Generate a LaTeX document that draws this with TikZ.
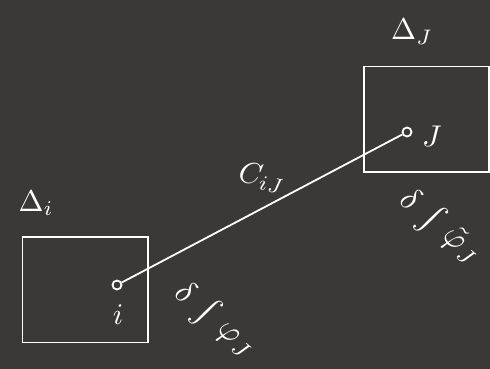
\documentclass[tikz,border=0pt]{standalone}
\usepackage{amsmath}
\usepackage{graphicx}
\definecolor{bg}{HTML}{3B3838}
\newcommand{\bigt}[1]{\scalebox{3}{$#1$}}
\newcommand{\bigd}[1]{\scalebox{3.3}{$#1$}}
\begin{document}
\begin{tikzpicture}[x=1pt,y=-1pt,
  box/.style={draw=white,line width=1.8pt},
  pt/.style={circle,draw=white,line width=1.8pt,inner sep=0pt,minimum size=9pt},
  lbl/.style={text=white,inner sep=1pt},
  conn/.style={draw=white,line width=1.8pt}]
\fill[bg] (0,0) rectangle (490,369);
\useasboundingbox (0,0) rectangle (490,369);
\draw[box] (22.5,237) rectangle (148,342.5);
\draw[box] (364,66.5) rectangle (489,172);
\node[pt] (i) at (117,285) {};
\node[pt] (J) at (407,132) {};
\draw[conn] (i) -- (J);
\node[lbl] (Di) at (36,203) {\bigt{\Delta_i}};
\node[lbl] (Dj) at (412,32) {\bigt{\Delta_J}};
\node[lbl] (li) at (118,315) {\bigt{i}};
\node[lbl] (lj) at (432,136) {\bigt{J}};
\node[lbl,rotate=-10] (cij) at (262,178) {\bigt{C_{iJ}}};
\node[lbl,rotate=-40] (dl) at (215,320) {\bigd{\delta\;{\textstyle\int}\;\varphi_J}};
\node[lbl,rotate=-40] (dr) at (440,227) {\bigd{\delta\;{\textstyle\int}\;\tilde\varphi_J}};
\end{tikzpicture}
\end{document}
